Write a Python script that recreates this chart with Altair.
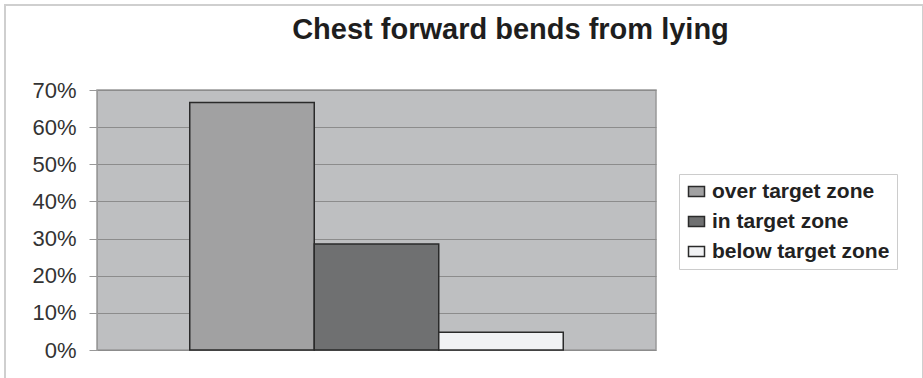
import altair as alt
import pandas as pd

# Share of participants per result zone (n = 21)
zones = ["over target zone", "in target zone", "below target zone"]
shares = [14 / 21, 6 / 21, 1 / 21]
fills = ["#a1a1a2", "#6f7071", "#f1f2f4"]
y_ticks = [0, 0.1, 0.2, 0.3, 0.4, 0.5, 0.6, 0.7]

df = pd.DataFrame({"zone": zones, "share": shares})

font = "Liberation Sans"

# Legend swatch: a 16x10 rectangle in Vega's [-1, 1] symbol space
swatch = "M-1,-0.625H1V0.625H-1Z"

bars = alt.Chart(df).mark_bar(stroke="#2a2a2a", strokeWidth=1.5).encode(
    x=alt.X(
        "zone:N",
        sort=zones,
        scale=alt.Scale(paddingInner=0, paddingOuter=0.745),
        axis=None,
    ),
    y=alt.Y(
        "share:Q",
        scale=alt.Scale(domain=[0, 0.7], nice=False),
        axis=alt.Axis(
            values=y_ticks,
            format=".0%",
            title=None,
            labelFont=font,
            labelFontSize=22,
            labelColor="#333333",
            labelPadding=13,
            tickSize=8,
            tickColor="#999999",
            domainColor="#999999",
            gridColor="#8c8c8c",
            gridWidth=1,
        ),
    ),
    color=alt.Color(
        "zone:N",
        sort=zones,
        scale=alt.Scale(domain=zones, range=fills),
        legend=alt.Legend(
            title=None,
            orient="none",
            legendX=582,
            legendY=84,
            direction="vertical",
            symbolType=swatch,
            symbolSize=256,
            symbolStrokeColor="#2a2a2a",
            symbolStrokeWidth=1.5,
            labelFont=font,
            labelFontSize=21,
            labelFontWeight="bold",
            labelColor="#222222",
            labelOffset=5,
            labelLimit=400,
            rowPadding=8,
            padding=7,
            strokeColor="#cccccc",
            fillColor="white",
        ),
    ),
)

# Light outer frame around the whole chart
frame = alt.Chart(alt.Data(values=[{"k": 1}])).mark_rect(
    fill=None, stroke="#cfcfcf", strokeWidth=2
).encode(
    x=alt.value(-92),
    x2=alt.value(826),
    y=alt.value(-85),
    y2=alt.value(300),
)

chart = (
    alt.layer(bars, frame)
    .properties(
        width=559,
        height=260,
        padding={"left": 97, "top": 90, "right": 267, "bottom": 28},
        autosize=alt.AutoSizeParams(type="none"),
        title=alt.TitleParams(
            "Chest forward bends from lying",
            font=font,
            fontSize=29,
            fontWeight="bold",
            color="#1e1e1e",
            anchor="middle",
            frame="group",
            dx=134,
            offset=-41,
        ),
    )
    .configure(background="white")
    .configure_view(fill="#bebfc1", stroke="#999999", strokeWidth=1.5)
)

chart.save("out.html", embed_options={"renderer": "svg", "actions": False})
